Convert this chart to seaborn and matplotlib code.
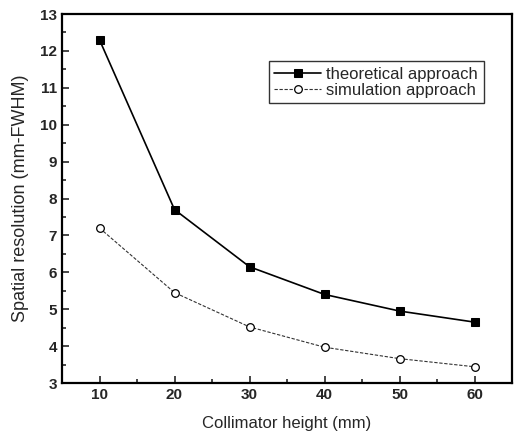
import matplotlib
matplotlib.use("Agg")
import matplotlib.pyplot as plt
from matplotlib.ticker import MultipleLocator
import seaborn as sns
import pandas as pd

heights = [10, 20, 30, 40, 50, 60]
theoretical = [12.3, 7.7, 6.15, 5.4, 4.95, 4.65]
simulation = [7.2, 5.45, 4.52, 3.97, 3.66, 3.44]
series_names = ["theoretical approach", "simulation approach"]

sns.set_theme(style="ticks")
plt.rcParams["font.family"] = ["Liberation Sans", "DejaVu Sans"]

df = pd.DataFrame({
    "height": heights * 2,
    "resolution": theoretical + simulation,
    "series": [series_names[0]] * len(heights) + [series_names[1]] * len(heights),
})

fig = plt.figure(figsize=(5.16, 4.36), dpi=100)
ax = fig.add_axes([62 / 516, 1 - 383 / 436, 450 / 516, 369 / 436])

sns.lineplot(data=df[df.series == series_names[0]], x="height", y="resolution",
             ax=ax, color="black", linewidth=1.2, marker="s", markersize=5.5,
             markerfacecolor="black", markeredgecolor="black",
             label=series_names[0])
sns.lineplot(data=df[df.series == series_names[1]], x="height", y="resolution",
             ax=ax, color="#333333", linewidth=0.8, linestyle=(0, (3, 1.5)),
             marker="o", markersize=5.5, markerfacecolor="white",
             markeredgecolor="black", markeredgewidth=0.9,
             label=series_names[1])

ax.set_xlim(5, 65)
ax.set_ylim(3, 13)
ax.xaxis.set_major_locator(MultipleLocator(10))
ax.xaxis.set_minor_locator(MultipleLocator(5))
ax.yaxis.set_major_locator(MultipleLocator(1))
ax.yaxis.set_minor_locator(MultipleLocator(0.5))
ax.tick_params(which="both", direction="in", labelsize=11, width=1.2)
ax.tick_params(which="major", length=5)
ax.tick_params(which="minor", length=3)
ax.xaxis.set_ticks_position("bottom")
ax.yaxis.set_ticks_position("left")
for lbl in ax.get_xticklabels() + ax.get_yticklabels():
    lbl.set_fontweight("bold")
for s in ax.spines.values():
    s.set_linewidth(1.6)
    s.set_color("black")

ax.set_xlabel("Collimator height (mm)", fontsize=12, labelpad=10)
ax.set_ylabel("Spatial resolution (mm-FWHM)", fontsize=13, labelpad=8)

leg = ax.legend(loc="upper right", bbox_to_anchor=(0.937, 0.873), fontsize=12,
                frameon=True, fancybox=False, edgecolor="black",
                handlelength=2.8, handletextpad=0.3, borderpad=0.35,
                labelspacing=0.05, borderaxespad=0)
leg.get_frame().set_linewidth(1.0)

fig.savefig("out.png", dpi=100)
